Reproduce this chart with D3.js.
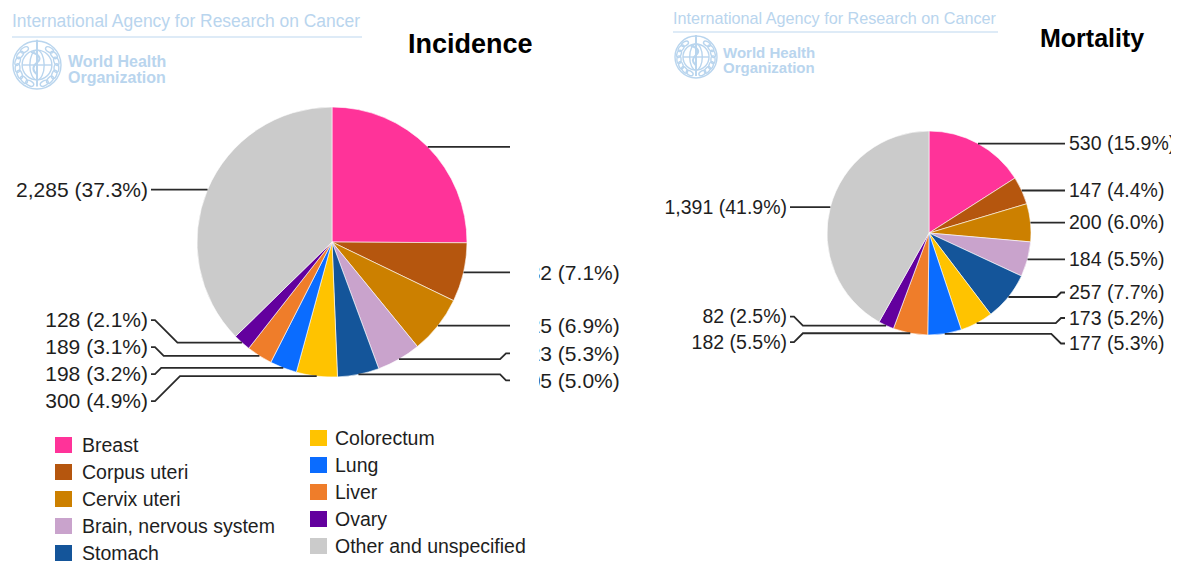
<!DOCTYPE html>
<html>
<head>
<meta charset="utf-8">
<script src="https://cdn.jsdelivr.net/npm/d3@7"></script>
<style>
  html, body { margin: 0; padding: 0; background: #fff; }
  svg { display: block; font-family: "Liberation Sans", Arial, sans-serif; }
</style>
</head>
<body>
<svg id="chart" width="1178" height="563"></svg>
<script>
// ---------------- data ----------------
const categories = ["Breast", "Corpus uteri", "Cervix uteri", "Brain, nervous system", "Stomach",
                    "Colorectum", "Lung", "Liver", "Ovary", "Other and unspecified"];
const incidenceValues = [1536, 432, 425, 323, 305, 300, 198, 189, 128, 2285];
const mortalityValues = [530, 147, 200, 184, 257, 173, 177, 182, 82, 1391];
const sliceColors = ["#ff3399", "#b5560e", "#cc8000", "#c9a3cc", "#14559a",
                     "#ffc300", "#0a6cff", "#ef7d2a", "#63009e", "#cbcbcb"];
const watermarkLines = ["International Agency for Research on Cancer", "World Health", "Organization"];
const titles = ["Incidence", "Mortality"];

// ---------------- setup ----------------
const svg = d3.select("#chart");
const color = d3.scaleOrdinal().domain(categories).range(sliceColors);
const fmtVal = d3.format(",");
const fmtPct = d3.format(".1f");
const WM = "#b9d5ee";

svg.append("rect").attr("width", 1178).attr("height", 563).attr("fill", "#fff");

const defs = svg.append("defs");
defs.append("clipPath").attr("id", "clipIncRight")
  .append("rect").attr("x", 539).attr("y", 0).attr("width", 120).attr("height", 563);
defs.append("clipPath").attr("id", "clipMortRight")
  .append("rect").attr("x", 0).attr("y", 0).attr("width", 1171).attr("height", 563);

// ---------------- watermark ----------------
function watermark(g, o) {
  g.append("text").attr("x", o.x).attr("y", o.y)
    .attr("font-size", o.fs).attr("fill", WM)
    .attr("textLength", o.len).attr("lengthAdjust", "spacingAndGlyphs")
    .text(watermarkLines[0]);
  g.append("line").attr("x1", o.x).attr("x2", o.x + o.len + 2)
    .attr("y1", o.ly).attr("y2", o.ly).attr("stroke", "#d3e5f5").attr("stroke-width", 1.5);
  const lg = g.append("g").attr("transform", `translate(${o.cx},${o.cy})`)
    .attr("fill", "none").attr("stroke", WM).attr("stroke-width", 1.4);
  lg.append("circle").attr("r", o.r);
  lg.append("circle").attr("r", o.r * 0.62);
  lg.append("ellipse").attr("rx", o.r * 0.3).attr("ry", o.r * 0.62);
  lg.append("line").attr("x1", -o.r * 0.62).attr("x2", o.r * 0.62);
  lg.append("line").attr("y1", -o.r * 1.05).attr("y2", o.r * 0.9).attr("stroke-width", 2);
  lg.append("path").attr("d", `M${-o.r*0.25},${-o.r*0.55} Q${o.r*0.3},${-o.r*0.35} 0,${-o.r*0.1} Q${-o.r*0.3},${o.r*0.15} 0,${o.r*0.4}`)
    .attr("stroke-width", 2);
  for (let k = 0; k < 7; k++) {
    const a = Math.PI * (0.62 + k * 0.11);
    [1, -1].forEach(s => {
      lg.append("ellipse")
        .attr("cx", s * Math.cos(a) * o.r * 0.82).attr("cy", Math.sin(a) * o.r * 0.82)
        .attr("rx", o.r * 0.1).attr("ry", o.r * 0.18)
        .attr("transform", `rotate(${s * (k * 20 - 60)},${s * Math.cos(a) * o.r * 0.82},${Math.sin(a) * o.r * 0.82})`);
    });
  }
  g.append("text").attr("x", o.tx).attr("y", o.ty1).attr("font-size", o.fs2).attr("fill", WM)
    .attr("font-weight", "bold").text(watermarkLines[1]);
  g.append("text").attr("x", o.tx).attr("y", o.ty2).attr("font-size", o.fs2).attr("fill", WM)
    .attr("font-weight", "bold").text(watermarkLines[2]);
}
watermark(svg.append("g"), {x: 12, y: 27, fs: 18, len: 348, ly: 37, cx: 37, cy: 65, r: 24,
  tx: 68, ty1: 67, ty2: 83, fs2: 16});
watermark(svg.append("g"), {x: 673, y: 24, fs: 17, len: 323, ly: 32, cx: 696, cy: 57, r: 21,
  tx: 723, ty1: 58, ty2: 73, fs2: 15});

// ---------------- titles ----------------
svg.append("text").attr("x", 408).attr("y", 53).attr("font-size", 27).attr("font-weight", "bold")
  .attr("fill", "#000").text(titles[0]);
svg.append("text").attr("x", 1040).attr("y", 47).attr("font-size", 25).attr("font-weight", "bold")
  .attr("fill", "#000").text(titles[1]);

// ---------------- pies ----------------
function spread(items, gap) {
  items.sort((a, b) => a.ay - b.ay);
  let groups = items.map(it => ({items: [it], mean: it.ay}));
  let changed = true;
  while (changed) {
    changed = false;
    for (let i = 0; i < groups.length - 1; i++) {
      const a = groups[i], b = groups[i + 1];
      const aTop = a.mean - (a.items.length - 1) * gap / 2;
      const bTop = b.mean - (b.items.length - 1) * gap / 2;
      if (bTop < aTop + a.items.length * gap - 0.01) {
        const its = a.items.concat(b.items);
        groups.splice(i, 2, {items: its, mean: d3.mean(its, d => d.ay)});
        changed = true;
        break;
      }
    }
  }
  groups.forEach(g => {
    const top = g.mean - (g.items.length - 1) * gap / 2;
    g.items.forEach((it, k) => it.ly = top + k * gap);
  });
}

function drawPie(o) {
  const g = svg.append("g");
  const total = d3.sum(o.values);
  const pie = d3.pie().sort(null).value(d => d)(o.values);
  const arc = d3.arc().innerRadius(0).outerRadius(o.r);
  g.append("g").attr("transform", `translate(${o.cx},${o.cy})`)
    .selectAll("path").data(pie).join("path")
    .attr("d", arc)
    .attr("fill", d => color(categories[d.index]))
    .attr("stroke", "#fff").attr("stroke-width", 0.6);

  const items = pie.map(d => {
    const a = (d.startAngle + d.endAngle) / 2;
    return {
      d, side: Math.sin(a) >= 0 ? 1 : -1,
      ax: o.cx + o.r * Math.sin(a), ay: o.cy - o.r * Math.cos(a),
      label: `${fmtVal(d.value)} (${fmtPct(d.value / total * 100)}%)`
    };
  });
  spread(items.filter(i => i.side > 0), o.gap);
  spread(items.filter(i => i.side < 0), o.gap);

  const stub = 4;
  items.forEach(it => {
    const Lx = it.side > 0 ? o.rightLineX : o.leftLineX;
    const dy = Math.abs(it.ly - it.ay);
    const pts = [[it.ax, it.ay],
      [Lx - it.side * (stub + dy), it.ay],
      [Lx - it.side * stub, it.ly],
      [Lx, it.ly]];
    g.append("path").attr("d", d3.line()(pts))
      .attr("fill", "none").attr("stroke", "#2a2a2a").attr("stroke-width", 1.8);
    if (o.hideLabel && o.hideLabel(it)) return;
    const t = g.append("text")
      .attr("x", it.side > 0 ? o.rightTextX : o.leftTextX)
      .attr("y", it.ly).attr("dy", "0.35em")
      .attr("text-anchor", it.side > 0 ? "start" : "end")
      .attr("font-size", o.fs).attr("fill", "#1e1e1e")
      .text(it.label);
    if (it.side > 0 && o.rightClip) t.attr("clip-path", `url(#${o.rightClip})`);
  });
}

drawPie({values: incidenceValues, cx: 332, cy: 242, r: 135, gap: 27, fs: 21,
  rightLineX: 510, rightTextX: 517, leftLineX: 151, leftTextX: 148,
  rightClip: "clipIncRight", hideLabel: it => it.d.index === 0});
drawPie({values: mortalityValues, cx: 929, cy: 233, r: 102, gap: 25.5, fs: 19.5,
  rightLineX: 1065, rightTextX: 1069, leftLineX: 790, leftTextX: 787,
  rightClip: "clipMortRight"});

// ---------------- legend ----------------
const leg = svg.append("g").selectAll("g").data(categories).join("g")
  .attr("transform", (d, i) => i < 5
    ? `translate(55,${445 + i * 27})`
    : `translate(310,${438 + (i - 5) * 27})`);
leg.append("rect").attr("x", 0).attr("y", -8).attr("width", 17).attr("height", 16)
  .attr("fill", d => color(d));
leg.append("text").attr("x", (d, i) => i < 5 ? 27 : 25).attr("y", 0).attr("dy", "0.35em")
  .attr("font-size", 19.5).attr("fill", "#1e1e1e").text(d => d);
</script>
</body>
</html>
